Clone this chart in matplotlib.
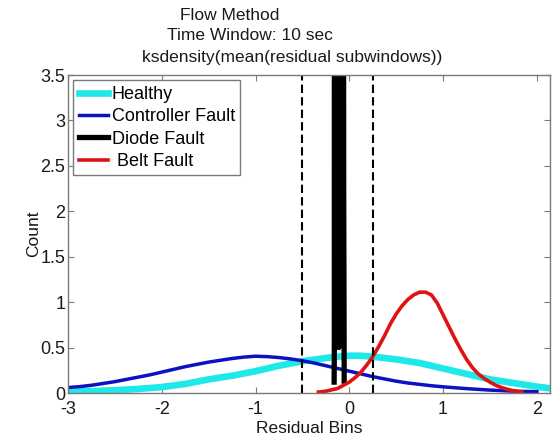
import matplotlib
matplotlib.use("Agg")
import matplotlib.pyplot as plt

plt.rcParams['font.family'] = ['Liberation Sans', 'DejaVu Sans']

# ---- data ----
healthy_x = [-3, -2.75, -2.5, -2.25, -2, -1.75, -1.5, -1.25, -1, -0.75, -0.5, -0.25, -0.125,
             0, 0.125, 0.25, 0.5, 0.75, 1, 1.25, 1.5, 1.75, 2, 2.15]
healthy_y = [0.015, 0.02, 0.03, 0.045, 0.065, 0.10, 0.15, 0.19, 0.24, 0.30, 0.35, 0.385, 0.40,
             0.41, 0.41, 0.40, 0.37, 0.33, 0.27, 0.21, 0.15, 0.11, 0.07, 0.05]

controller_x = [-3, -2.875, -2.75, -2.625, -2.5, -2.375, -2.25, -2.125, -2, -1.875, -1.75,
                -1.625, -1.5, -1.375, -1.25, -1.125, -1, -0.875, -0.75, -0.625, -0.5,
                -0.375, -0.25, -0.125, 0, 0.125, 0.25, 0.375, 0.5, 0.625, 0.75, 0.875,
                1, 1.25, 1.5, 1.75, 2]
controller_y = [0.06, 0.07, 0.085, 0.105, 0.125, 0.15, 0.175, 0.20, 0.23, 0.26, 0.29,
                0.315, 0.34, 0.36, 0.38, 0.395, 0.405, 0.40, 0.39, 0.375, 0.355,
                0.33, 0.30, 0.27, 0.24, 0.21, 0.18, 0.155, 0.13, 0.11, 0.095, 0.08,
                0.068, 0.048, 0.032, 0.02, 0.014]

diode_x = [-0.162, -0.160, -0.152, -0.112, -0.090, -0.060, -0.056, -0.055]
diode_y = [0.12, 0.5, 40, 0.5, 40, 2.2, 0.75, 0.13]

belt_x = [-0.33, -0.25, -0.125, 0, 0.0625, 0.125, 0.1875, 0.25, 0.3125, 0.375, 0.4375,
          0.5, 0.5625, 0.625, 0.6875, 0.75, 0.8125, 0.875, 0.9375, 1.0, 1.0625, 1.125,
          1.1875, 1.25, 1.3125, 1.375, 1.4375, 1.5, 1.5625, 1.625, 1.6875, 1.75, 1.84]
belt_y = [0.01, 0.02, 0.05, 0.12, 0.17, 0.23, 0.31, 0.40, 0.51, 0.63, 0.76,
          0.87, 0.96, 1.03, 1.08, 1.11, 1.11, 1.08, 0.99, 0.86, 0.73, 0.60,
          0.48, 0.37, 0.28, 0.21, 0.16, 0.12, 0.085, 0.06, 0.04, 0.025, 0.01]

threshold_lo = -0.5
threshold_hi = 0.25

title_lines = ["Flow Method", "Time Window: 10 sec", "ksdensity(mean(residual subwindows))"]
labels = ["Healthy", "Controller Fault", "Diode Fault", " Belt Fault"]
xticks = [-3, -2, -1, 0, 1, 2]
yticks = [0, 0.5, 1, 1.5, 2, 2.5, 3, 3.5]
yticklabels = ['0', '0.5', '1', '1.5', '2', '2.5', '3', '3.5']

# ---- figure ----
W, H = 552, 440
fig = plt.figure(figsize=(W / 100, H / 100), dpi=100)
ax = fig.add_axes([68 / W, (H - 393) / H, (550 - 68) / W, (393 - 75) / H])

ax.plot(healthy_x, healthy_y, color='#1fe8e8', lw=4.8, label=labels[0])
ax.plot(controller_x, controller_y, color='#0c12c4', lw=2.5, label=labels[1])
ax.plot(diode_x, diode_y, color='black', lw=3.8, label=labels[2], solid_joinstyle='round')
ax.plot(belt_x, belt_y, color='#e01212', lw=2.6, label=labels[3])
for xv in (threshold_lo, threshold_hi):
    ax.axvline(xv, color='black', lw=1.5, dashes=(4, 2))

ax.set_xlim(-3, 2.14)
ax.set_ylim(0, 3.5)
ax.set_xticks(xticks)
ax.set_xticklabels([str(t) for t in xticks])
ax.set_yticks(yticks)
ax.set_yticklabels(yticklabels)

for s in ax.spines.values():
    s.set_color('#7a7a7a')
    s.set_linewidth(1.0)
ax.tick_params(direction='in', length=4, width=0.8, color='#7a7a7a',
               top=True, right=True, labelsize=13, labelcolor='#1a1a1a')
ax.tick_params(axis='x', pad=6)
ax.tick_params(axis='y', pad=2)

ax.set_xlabel("Residual Bins", fontsize=12.5, color='#1a1a1a', labelpad=2)
ax.set_ylabel("Count", fontsize=12.5, color='#1a1a1a', labelpad=-1)

leg = ax.legend(loc='upper left', fontsize=13, handlelength=1.6, handletextpad=0.22,
                labelspacing=0.3, borderpad=0.3, borderaxespad=0.3,
                fancybox=False, framealpha=1, edgecolor='#7a7a7a')
leg.get_frame().set_linewidth(1.0)

centers = [229.5, 250, 292.5]
baselines = [19.5, 40.5, 62]
for t, cx, by in zip(title_lines, centers, baselines):
    fig.text(cx / W, 1 - by / H, t, ha='center', va='baseline', fontsize=12.5, color='#1a1a1a')

fig.savefig("out.png", dpi=100)
